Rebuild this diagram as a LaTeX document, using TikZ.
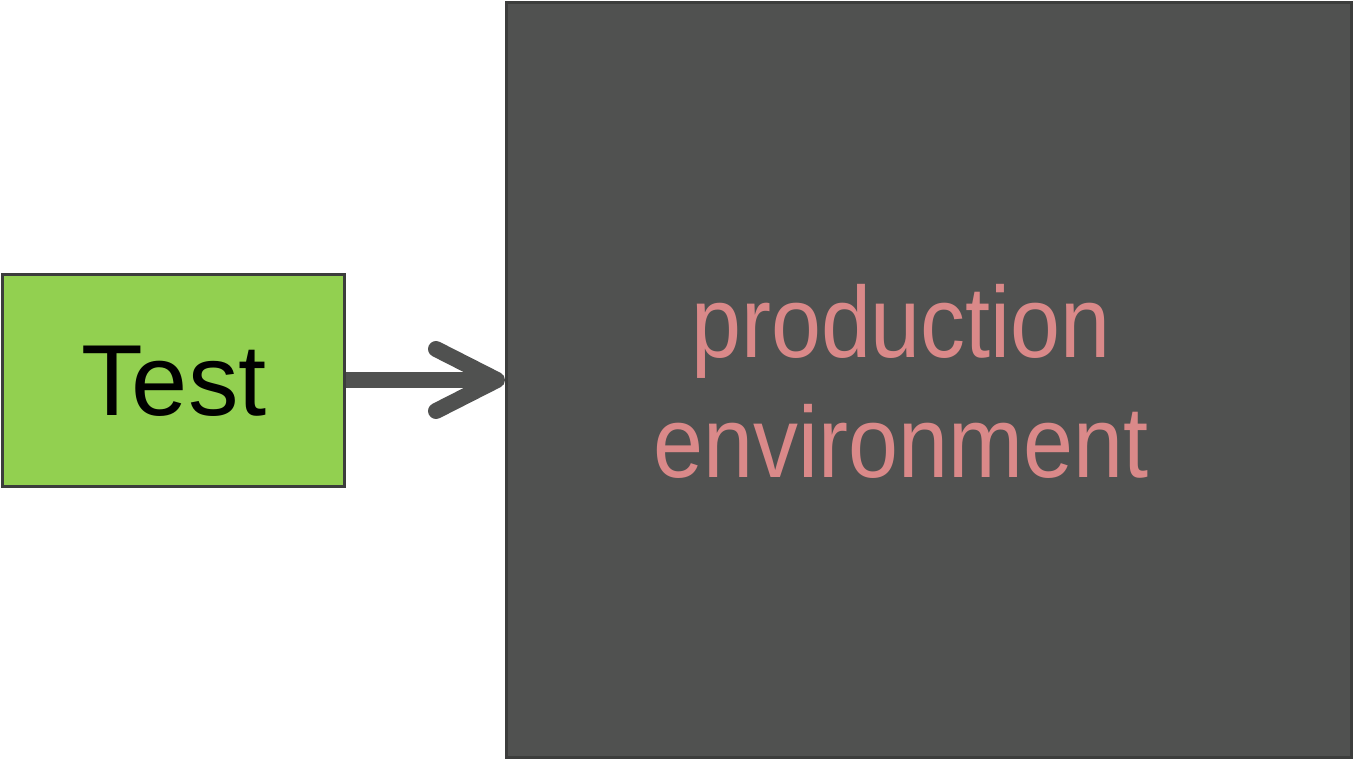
\documentclass[tikz,border=0pt]{standalone}
\usepackage{fontspec}
\setmainfont{Liberation Sans}
\newfontfamily\narrowsans[FakeStretch=0.89]{Liberation Sans}
\usetikzlibrary{arrows.meta}
\definecolor{testgreen}{HTML}{92D050}
\definecolor{envgray}{HTML}{505150}
\definecolor{edgegray}{HTML}{3C3D3C}
\definecolor{envpink}{HTML}{DA8989}

\begin{document}
\begin{tikzpicture}[x = 1pt, y = -1pt,
                      stage/.style = {draw = edgegray, line width = 3pt, inner sep = 0pt},
                      bigtext/.style = {font = \fontsize{101}{120}\selectfont, align = center, inner sep = 0pt}]
    \useasboundingbox (0, 0) rectangle (1354, 760);
    \node [stage, fill = testgreen, minimum width = 342pt, minimum height = 212pt] (test) at (173.5, 380){};
    \node [bigtext, text = black] (testtext) at (174, 381.5){Test};
    \node [stage, fill = envgray, minimum width = 845pt, minimum height = 755pt] (prod) at (929, 380){};
    \node [bigtext, font = \fontsize{101}{120}\narrowsans, text = envpink] (prodtext) at (901, 381.5){production\\environment};
    \draw [envgray, line width = 16pt,
           -{Straight Barb[length = 61pt, width = 62pt, line join = round, line cap = round]}]
          (test.east) -- (prod.west);
\end{tikzpicture}
\end{document}
